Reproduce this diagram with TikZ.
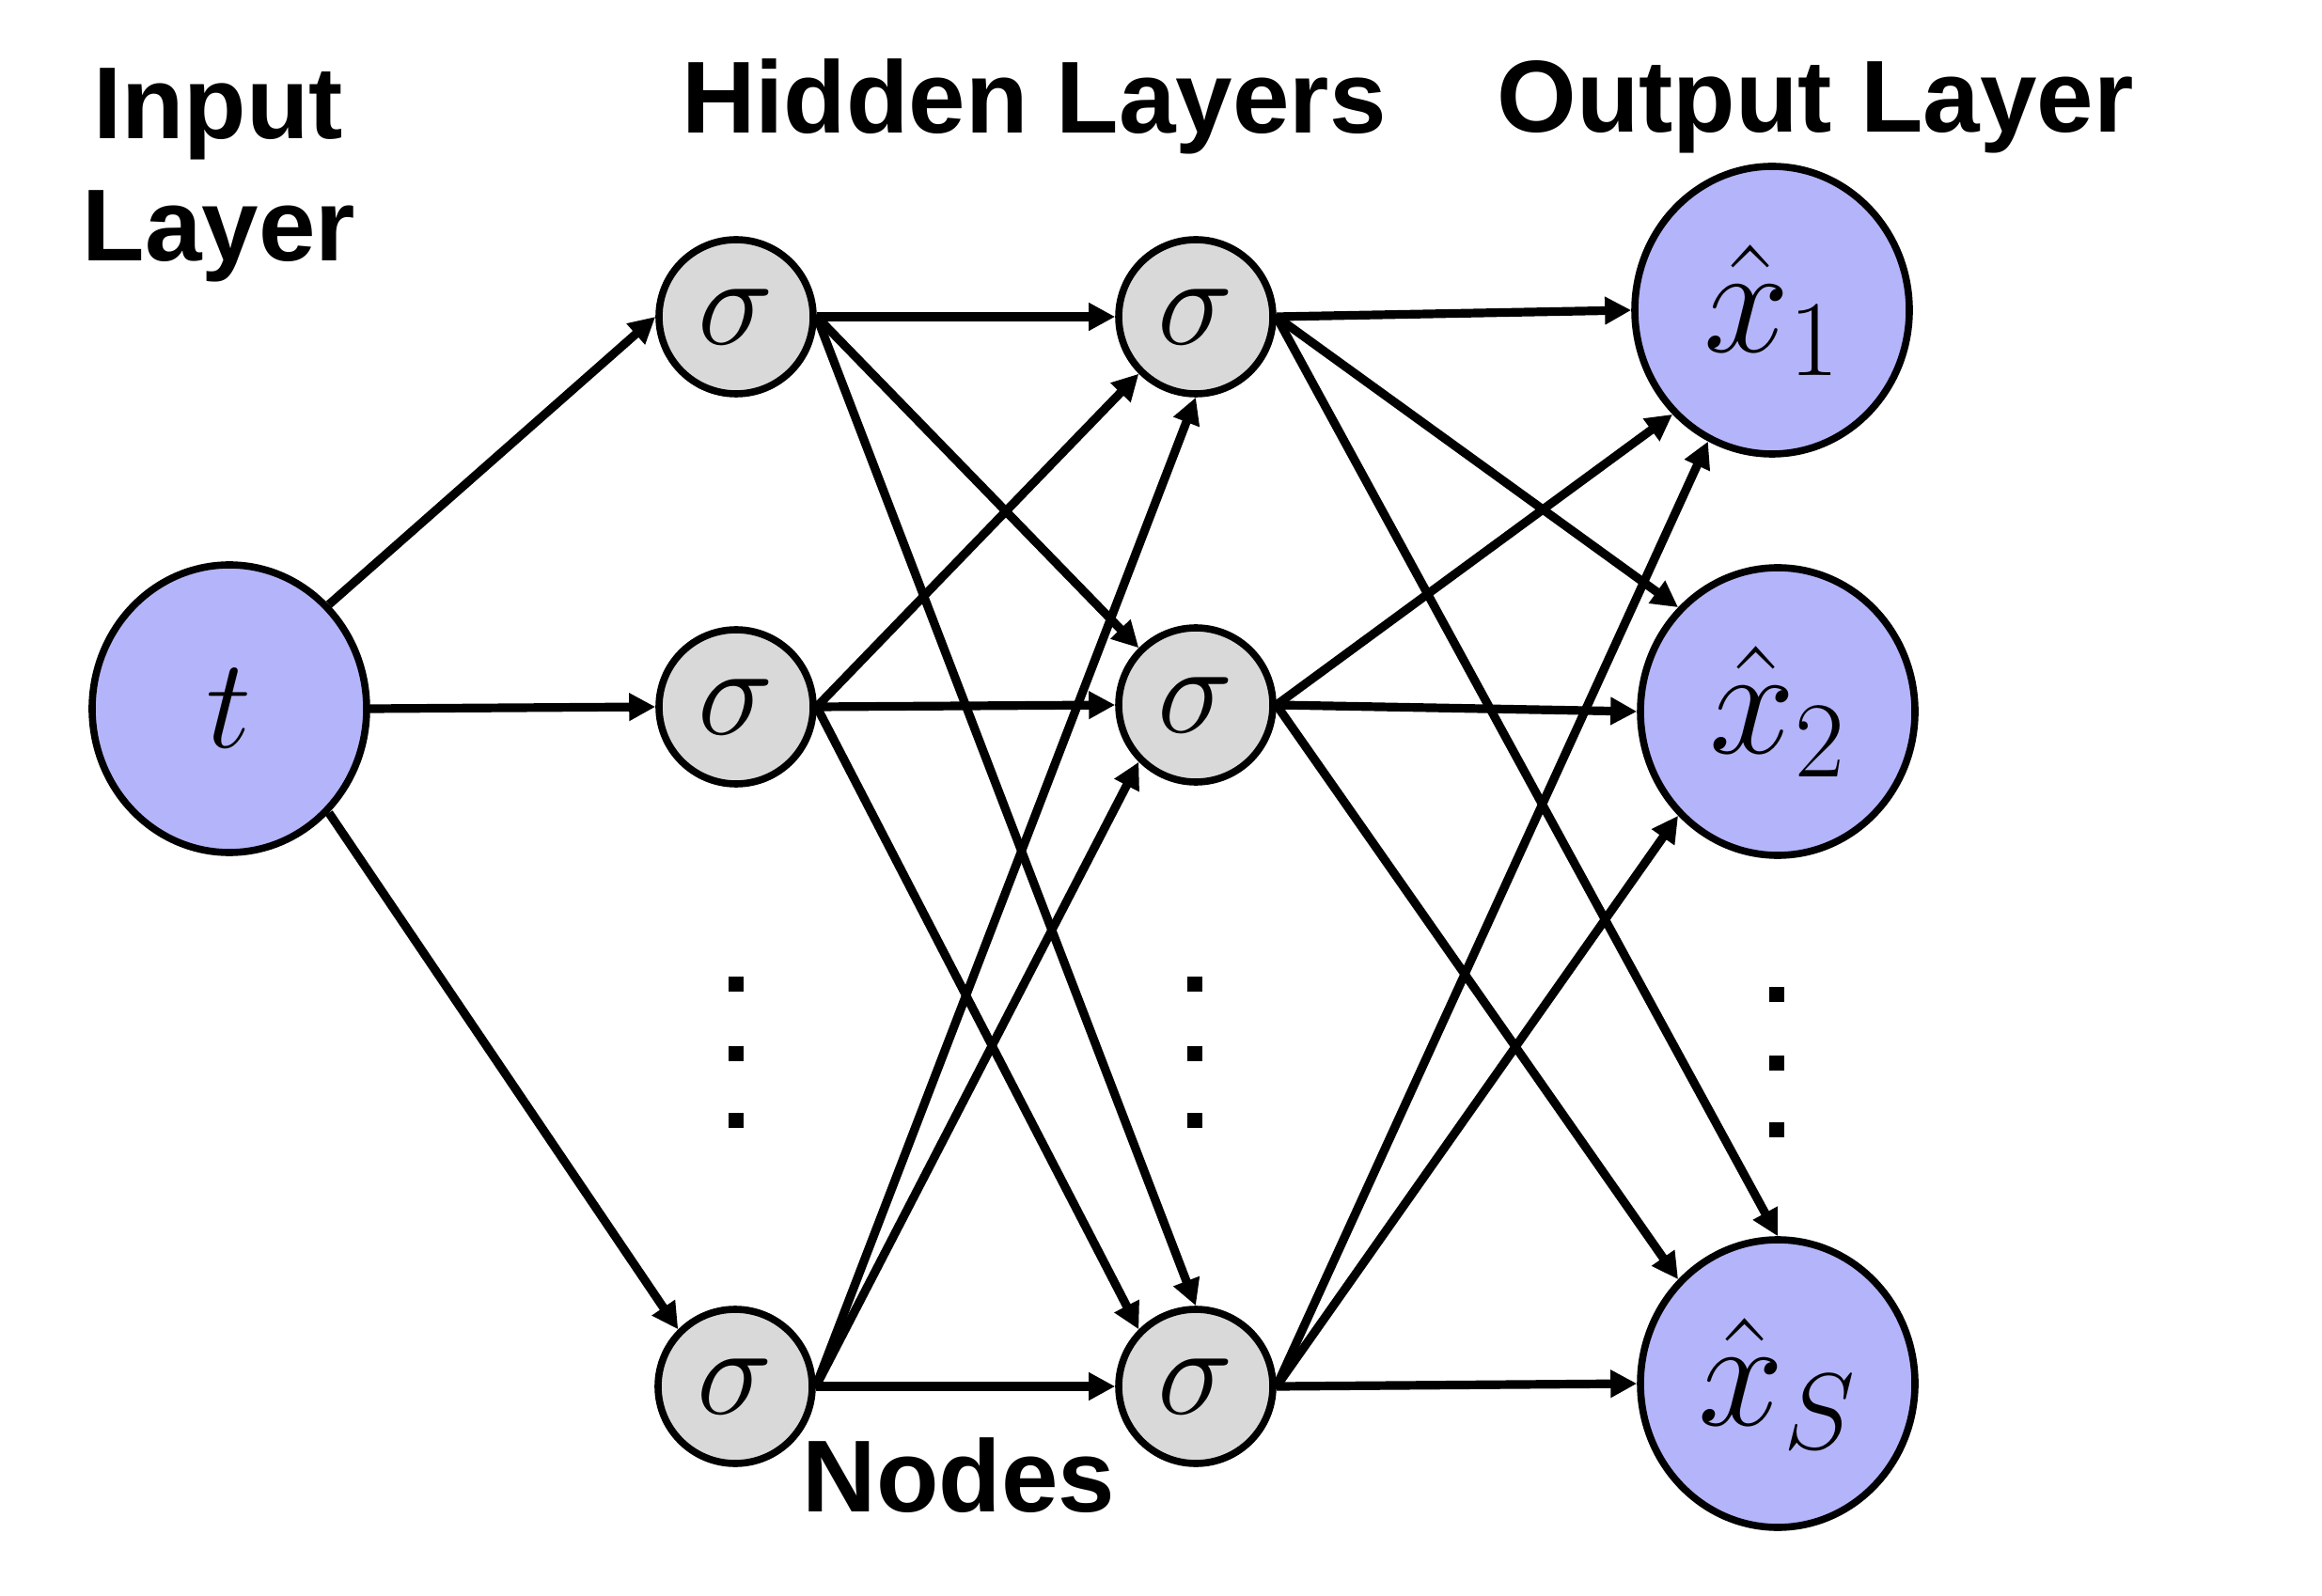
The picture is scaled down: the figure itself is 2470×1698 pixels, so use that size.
\RequirePackage{fix-cm}
\documentclass[tikz,border=0pt]{standalone}
\usepackage{fontspec}
\newfontfamily\labfont{Liberation Sans}
\usetikzlibrary{arrows.meta,shapes.geometric}
\definecolor{inblue}{RGB}{180,180,250}
\definecolor{hgray}{RGB}{217,217,217}
\begin{document}
\begin{tikzpicture}[x=0.25pt,y=-0.25pt,
  big/.style={ellipse,draw,line width=1.9pt,fill=inblue,minimum width=73pt,minimum height=76.5pt,inner sep=0pt},
  outfont/.style={font=\fontsize{41}{43}\selectfont},
  hid/.style={circle,draw,line width=1.9pt,fill=hgray,minimum size=41pt,inner sep=0pt,font=\fontsize{34}{36}\selectfont},
  conn/.style={line width=2.3pt,-{Triangle[length=7pt,width=7pt]}},
  title/.style={font=\labfont\bfseries\fontsize{27.2}{32}\selectfont,anchor=base,inner sep=0pt},
  dotsq/.style={rectangle,fill=black,minimum size=4pt,inner sep=0pt}]
\useasboundingbox (0,0) rectangle (2470,1698);
% titles
\node[title] (in1) at (232,148) {Input};
\node[title] (in2) at (233,278) {Layer};
\node[title] (hl) at (1100,142) {Hidden Layers};
\node[title] (ol) at (1931,141) {Output Layer};
\node[title] (nd) at (1020,1608) {Nodes};
% nodes
\node[big,font=\fontsize{34}{36}\selectfont] (t) at (244,754) {$t$};
\node[hid] (a1) at (783,337) {$\sigma$};
\node[hid] (a2) at (783,752) {$\sigma$};
\node[hid] (a3) at (782,1475) {$\sigma$};
\node[hid] (b1) at (1272,337) {$\sigma$};
\node[hid] (b2) at (1272,750) {$\sigma$};
\node[hid] (b3) at (1272,1475) {$\sigma$};
\node[big,outfont] (o1) at (1885,330) {$\hat{x}_1$};
\node[big,outfont] (o2) at (1891,757) {$\hat{x}_2$};
\node[big,outfont] (o3) at (1891,1472) {$\hat{x}_S$};
% vertical dots
\node[dotsq] (da1) at (783,1047) {};
\node[dotsq] (da2) at (783,1121) {};
\node[dotsq] (da3) at (783,1192) {};
\node[dotsq] (db1) at (1271,1047) {};
\node[dotsq] (db2) at (1271,1121) {};
\node[dotsq] (db3) at (1271,1192) {};
\node[dotsq] (dc1) at (1890,1058) {};
\node[dotsq] (dc2) at (1890,1131) {};
\node[dotsq] (dc3) at (1890,1202) {};
% input -> hidden 1
\draw[conn] (t.north east) -- (a1.west);
\draw[conn] (t.east) -- (a2.west);
\draw[conn] (t.south east) -- (a3.north west);
% hidden 1 -> hidden 2
\draw[conn] (a1.east) -- (b1.west);
\draw[conn] (a1.east) -- (b2.north west);
\draw[conn] (a1.east) -- (b3.north);
\draw[conn] (a2.east) -- (b1.south west);
\draw[conn] (a2.east) -- (b2.west);
\draw[conn] (a2.east) -- (b3.north west);
\draw[conn] (a3.east) -- (b1.south);
\draw[conn] (a3.east) -- (b2.south west);
\draw[conn] (a3.east) -- (b3.west);
% hidden 2 -> output
\draw[conn] (b1.east) -- (o1.west);
\draw[conn] (b1.east) -- (o2.north west);
\draw[conn] (b1.east) -- (o3.north);
\draw[conn] (b2.east) -- (o1.south west);
\draw[conn] (b2.east) -- (o2.west);
\draw[conn] (b2.east) -- (o3.north west);
\draw[conn] (b3.east) -- (o1.244);
\draw[conn] (b3.east) -- (o2.south west);
\draw[conn] (b3.east) -- (o3.west);
\end{tikzpicture}
\end{document}
